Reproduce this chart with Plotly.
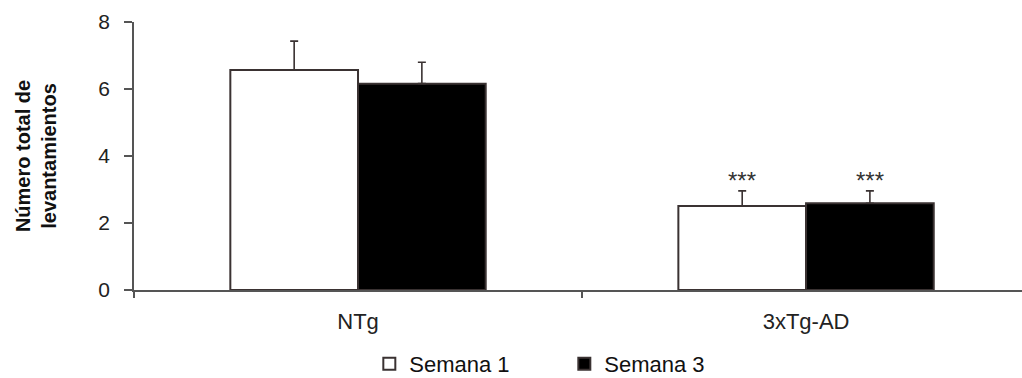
import plotly.graph_objects as go

categories = ["NTg", "3xTg-AD"]
semana1 = [6.57, 2.51]
semana1_err = [0.86, 0.45]
semana3 = [6.16, 2.59]
semana3_err = [0.64, 0.37]
significance = ["", "***"]
y_ticks = [0, 2, 4, 6, 8]

FONT = "Liberation Sans, Arial, sans-serif"
EDGE = "#3a3232"

fig = go.Figure()
fig.add_trace(go.Bar(
    x=categories, y=semana1, name="Semana 1",
    marker=dict(color="white", line=dict(color=EDGE, width=2)),
    error_y=dict(type="data", array=semana1_err, arrayminus=[0, 0], symmetric=False,
                 color="#3a3232", thickness=1.6, width=4),
))
fig.add_trace(go.Bar(
    x=categories, y=semana3, name="Semana 3",
    marker=dict(color="black", line=dict(color=EDGE, width=2)),
    error_y=dict(type="data", array=semana3_err, arrayminus=[0, 0], symmetric=False,
                 color="#3a3232", thickness=1.6, width=4),
))

annotations = []
for cat, s, v1, e1, v3, e3 in zip(categories, significance, semana1, semana1_err, semana3, semana3_err):
    if s:
        for shift, top in ((-64, v1 + e1), (64, v3 + e3)):
            annotations.append(dict(
                x=cat, y=top, xref="x", yref="y", text=s, showarrow=False,
                xshift=shift, yanchor="bottom", yshift=-5,
                font=dict(family=FONT, size=24, color="#333"),
            ))

fig.update_layout(
    width=1022, height=378,
    margin=dict(l=134, r=0, t=22, b=88, autoexpand=False),
    paper_bgcolor="white", plot_bgcolor="white",
    barmode="group", bargap=0.43, bargroupgap=0,
    font=dict(family=FONT, color="#222"),
    showlegend=True,
    legend=dict(orientation="h", x=0.265, xanchor="left",
                yref="container", y=14 / 378, yanchor="middle",
                font=dict(family=FONT, size=22, color="#111"),
                itemwidth=30, entrywidth=150, traceorder="normal"),
    annotations=annotations,
    xaxis=dict(
        type="category", range=[-0.5, 1.482],
        showline=True, linecolor="#555", linewidth=1.5,
        ticks="outside", tickson="boundaries", ticklen=6, tickcolor="#555", tickwidth=1.5,
        ticklabelstandoff=11,
        tickfont=dict(family=FONT, size=22, color="#222"),
        showgrid=False, zeroline=False,
    ),
    yaxis=dict(
        range=[0, 8], tickvals=y_ticks,
        showline=True, linecolor="#555", linewidth=1.5,
        ticks="outside", ticklen=8, tickcolor="#555", tickwidth=1.5,
        ticklabelstandoff=10,
        tickfont=dict(family=FONT, size=21, color="#222"),
        showgrid=False, zeroline=False,
        title=dict(text="Número total de<br>levantamientos", standoff=36,
                   font=dict(family=FONT, size=20, color="#111", weight="bold")),
    ),
)

fig.write_html("out.html")
